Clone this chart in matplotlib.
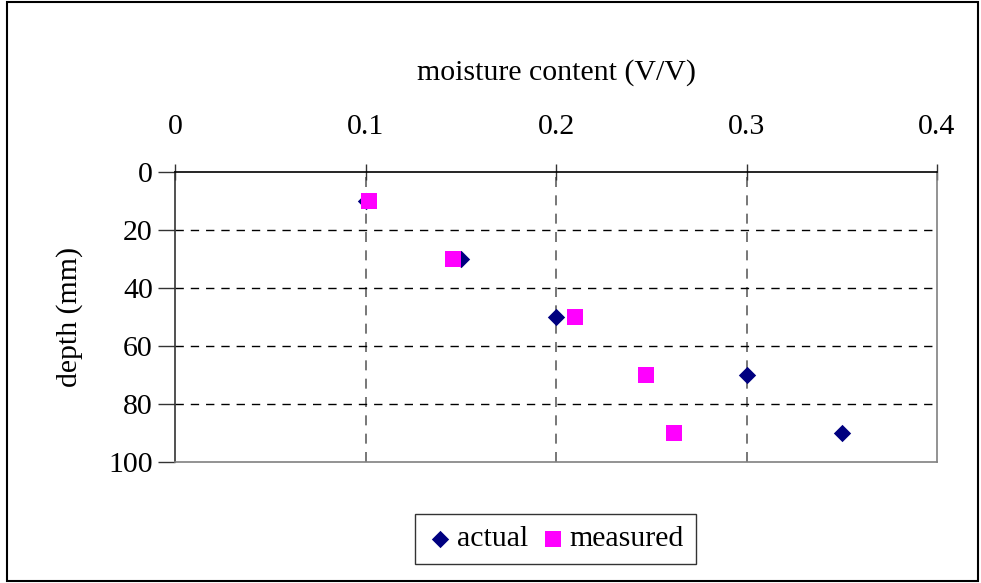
import matplotlib
matplotlib.use("Agg")
import matplotlib.pyplot as plt
from matplotlib.patches import Rectangle

plt.rcParams['font.family'] = ['Liberation Serif', 'DejaVu Serif']

depth = [10, 30, 50, 70, 90]
actual = [0.1, 0.15, 0.2, 0.3, 0.35]
measured = [0.102, 0.146, 0.21, 0.247, 0.262]
x_ticks = [0, 0.1, 0.2, 0.3, 0.4]
x_labels = ['0', '0.1', '0.2', '0.3', '0.4']
y_ticks = [0, 20, 40, 60, 80, 100]

fs = 21.5

fig = plt.figure(figsize=(9.81, 5.83), dpi=100)
ax = fig.add_axes([0.1784, 0.2075, 0.7768, 0.4975])

for x in x_ticks[1:-1]:
    ax.axvline(x, color='#606060', lw=1.2, ls=(0, (6, 5)), zorder=1)
for y in y_ticks[1:-1]:
    ax.axhline(y, color='black', lw=1.0, ls=(0, (6, 5)), zorder=1)

ax.scatter(actual, depth, marker='D', s=78, color='#000080', label='actual', zorder=3, linewidths=0)
ax.scatter(measured, depth, marker='s', s=125, color='#FF00FF', label='measured', zorder=3, linewidths=0)

ax.set_xlim(0, 0.4)
ax.set_ylim(100, 0)
ax.xaxis.tick_top()
ax.xaxis.set_label_position('top')
ax.set_xticks(x_ticks)
ax.set_xticklabels(x_labels)
ax.set_yticks(y_ticks)
ax.tick_params(axis='x', direction='inout', length=12, width=1, labelsize=fs, pad=17, color='#333333')
ax.tick_params(axis='y', direction='out', length=12, width=1, labelsize=fs, pad=4, color='#333333')
ax.set_xlabel('moisture content (V/V)', fontsize=fs, labelpad=25)
ax.set_ylabel('depth (mm)', fontsize=fs, labelpad=18)

ax.spines['top'].set_color('black')
ax.spines['left'].set_color('#333333')
ax.spines['right'].set_color('#808080')
ax.spines['bottom'].set_color('#808080')
for s in ax.spines.values():
    s.set_linewidth(1.2)

leg = fig.legend(loc='center', bbox_to_anchor=(0.566, 0.0755), ncol=2, fontsize=fs,
                 frameon=True, fancybox=False, edgecolor='black', handletextpad=0.1,
                 columnspacing=0.4, borderpad=0.4, handlelength=0.9, scatterpoints=1)
leg.get_frame().set_linewidth(1.0)

fig.patches.append(Rectangle((0.007, 0.004), 0.99, 0.993, transform=fig.transFigure,
                             fill=False, edgecolor='black', lw=1.5))

fig.savefig('out.png', dpi=100)
